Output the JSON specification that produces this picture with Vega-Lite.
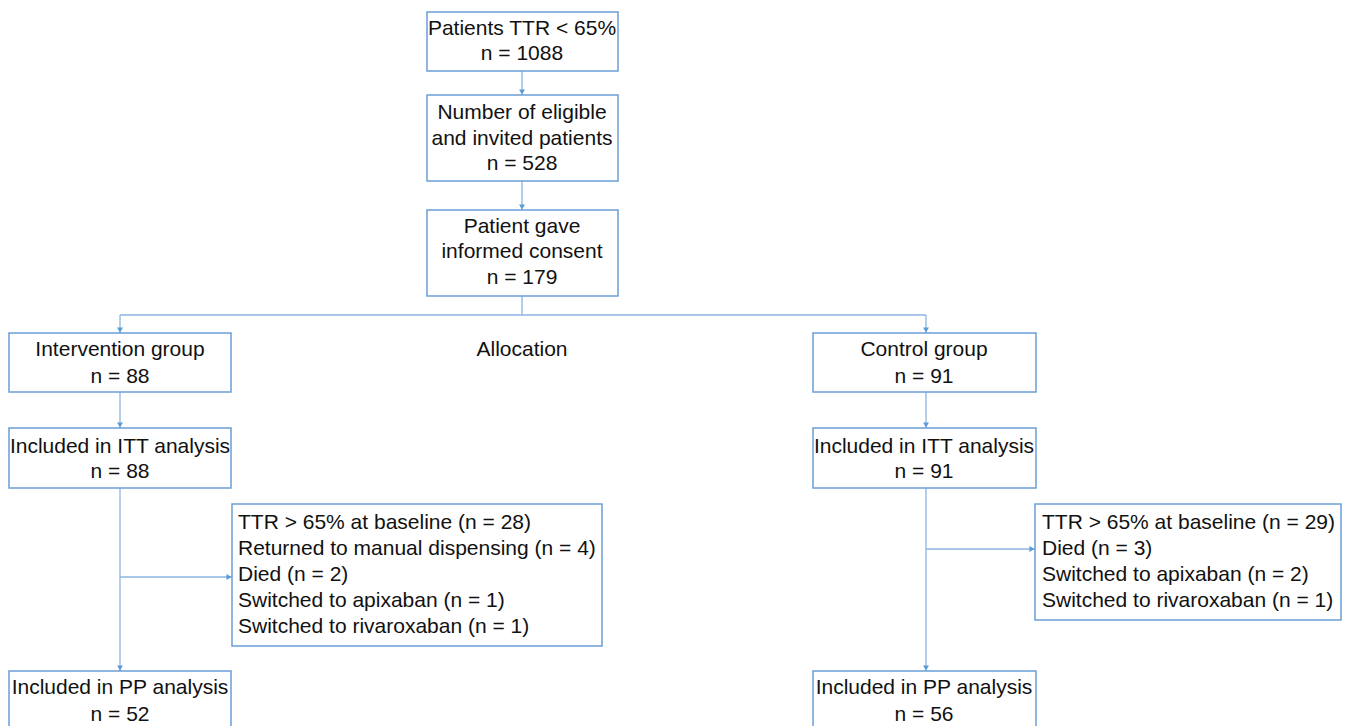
{
  "$schema": "https://vega.github.io/schema/vega-lite/v6.json",
  "width": 1352,
  "height": 726,
  "autosize": {"type": "fit", "contains": "padding"},
  "padding": 0,
  "background": "white",
  "config": {"view": {"stroke": null}},
  "datasets": {
    "boxes": [
      {"x1": 427, "x2": 618, "y1": 12, "y2": 71},
      {"x1": 427, "x2": 618, "y1": 95, "y2": 181},
      {"x1": 427, "x2": 618, "y1": 210, "y2": 296},
      {"x1": 9, "x2": 231, "y1": 333, "y2": 392},
      {"x1": 813, "x2": 1036, "y1": 333, "y2": 392},
      {"x1": 9, "x2": 231, "y1": 428, "y2": 488},
      {"x1": 813, "x2": 1036, "y1": 428, "y2": 488},
      {"x1": 232, "x2": 602, "y1": 504, "y2": 646},
      {"x1": 1035, "x2": 1341, "y1": 504, "y2": 620},
      {"x1": 9, "x2": 231, "y1": 671, "y2": 740},
      {"x1": 813, "x2": 1036, "y1": 671, "y2": 740}
    ],
    "lines": [
      {"x1": 522, "y1": 71, "x2": 522, "y2": 95},
      {"x1": 522, "y1": 181, "x2": 522, "y2": 210},
      {"x1": 522, "y1": 296, "x2": 522, "y2": 315},
      {"x1": 120, "y1": 315, "x2": 926, "y2": 315},
      {"x1": 120, "y1": 315, "x2": 120, "y2": 333},
      {"x1": 926, "y1": 315, "x2": 926, "y2": 333},
      {"x1": 120, "y1": 392, "x2": 120, "y2": 428},
      {"x1": 926, "y1": 392, "x2": 926, "y2": 428},
      {"x1": 120, "y1": 488, "x2": 120, "y2": 671},
      {"x1": 926, "y1": 488, "x2": 926, "y2": 671},
      {"x1": 120, "y1": 577, "x2": 232, "y2": 577},
      {"x1": 926, "y1": 549, "x2": 1035, "y2": 549}
    ],
    "down": [
      {"x": 522, "y": 95}, {"x": 522, "y": 210}, {"x": 120, "y": 333}, {"x": 926, "y": 333},
      {"x": 120, "y": 428}, {"x": 926, "y": 428}, {"x": 120, "y": 671}, {"x": 926, "y": 671}
    ],
    "right": [
      {"x": 232, "y": 577}, {"x": 1035, "y": 549}
    ],
    "ctext": [
      {"x": 522, "y": 29, "t": "Patients TTR < 65%"},
      {"x": 522, "y": 54, "t": "n = 1088"},
      {"x": 522, "y": 113, "t": "Number of eligible"},
      {"x": 522, "y": 139, "t": "and invited patients"},
      {"x": 522, "y": 164, "t": "n = 528"},
      {"x": 522, "y": 227, "t": "Patient gave"},
      {"x": 522, "y": 252, "t": "informed consent"},
      {"x": 522, "y": 278, "t": "n = 179"},
      {"x": 120, "y": 350, "t": "Intervention group"},
      {"x": 120, "y": 377, "t": "n = 88"},
      {"x": 924, "y": 350, "t": "Control group"},
      {"x": 924, "y": 377, "t": "n = 91"},
      {"x": 522, "y": 350, "t": "Allocation"},
      {"x": 120, "y": 447, "t": "Included in ITT analysis"},
      {"x": 120, "y": 472, "t": "n = 88"},
      {"x": 924, "y": 447, "t": "Included in ITT analysis"},
      {"x": 924, "y": 472, "t": "n = 91"},
      {"x": 120, "y": 688, "t": "Included in PP analysis"},
      {"x": 120, "y": 715, "t": "n = 52"},
      {"x": 924, "y": 688, "t": "Included in PP analysis"},
      {"x": 924, "y": 715, "t": "n = 56"}
    ],
    "ltext": [
      {"x": 238, "y": 523, "t": "TTR > 65% at baseline (n = 28)"},
      {"x": 238, "y": 549, "t": "Returned to manual dispensing (n = 4)"},
      {"x": 238, "y": 575, "t": "Died (n = 2)"},
      {"x": 238, "y": 601, "t": "Switched to apixaban (n = 1)"},
      {"x": 238, "y": 627, "t": "Switched to rivaroxaban (n = 1)"},
      {"x": 1042, "y": 523, "t": "TTR > 65% at baseline (n = 29)"},
      {"x": 1042, "y": 549, "t": "Died (n = 3)"},
      {"x": 1042, "y": 575, "t": "Switched to apixaban (n = 2)"},
      {"x": 1042, "y": 601, "t": "Switched to rivaroxaban (n = 1)"}
    ]
  },
  "layer": [
    {
      "data": {"name": "lines"},
      "mark": {"type": "rule", "color": "#8db4e2", "strokeWidth": 1.3},
      "encoding": {
        "x": {"field": "x1", "type": "quantitative", "scale": {"domain": [0, 1352], "nice": false, "zero": false}, "axis": null},
        "y": {"field": "y1", "type": "quantitative", "scale": {"domain": [0, 726], "nice": false, "zero": false, "reverse": true}, "axis": null},
        "x2": {"field": "x2"},
        "y2": {"field": "y2"}
      }
    },
    {
      "data": {"name": "boxes"},
      "mark": {"type": "rect", "fill": null, "fillOpacity": 0, "stroke": "#6a9fd8", "strokeWidth": 1.5, "clip": true},
      "encoding": {
        "x": {"field": "x1", "type": "quantitative"},
        "y": {"field": "y1", "type": "quantitative"},
        "x2": {"field": "x2"},
        "y2": {"field": "y2"}
      }
    },
    {
      "data": {"name": "down"},
      "mark": {"type": "point", "shape": "triangle-down", "filled": true, "color": "#5b9bd5", "size": 35, "yOffset": -3, "opacity": 1},
      "encoding": {
        "x": {"field": "x", "type": "quantitative"},
        "y": {"field": "y", "type": "quantitative"}
      }
    },
    {
      "data": {"name": "right"},
      "mark": {"type": "point", "shape": "triangle-right", "filled": true, "color": "#5b9bd5", "size": 35, "xOffset": -3, "opacity": 1},
      "encoding": {
        "x": {"field": "x", "type": "quantitative"},
        "y": {"field": "y", "type": "quantitative"}
      }
    },
    {
      "data": {"name": "ctext"},
      "mark": {"type": "text", "align": "center", "baseline": "middle", "font": "Liberation Sans", "fontSize": 21, "color": "#111111"},
      "encoding": {
        "x": {"field": "x", "type": "quantitative"},
        "y": {"field": "y", "type": "quantitative"},
        "text": {"field": "t"}
      }
    },
    {
      "data": {"name": "ltext"},
      "mark": {"type": "text", "align": "left", "baseline": "middle", "font": "Liberation Sans", "fontSize": 21, "color": "#111111"},
      "encoding": {
        "x": {"field": "x", "type": "quantitative"},
        "y": {"field": "y", "type": "quantitative"},
        "text": {"field": "t"}
      }
    }
  ]
}
